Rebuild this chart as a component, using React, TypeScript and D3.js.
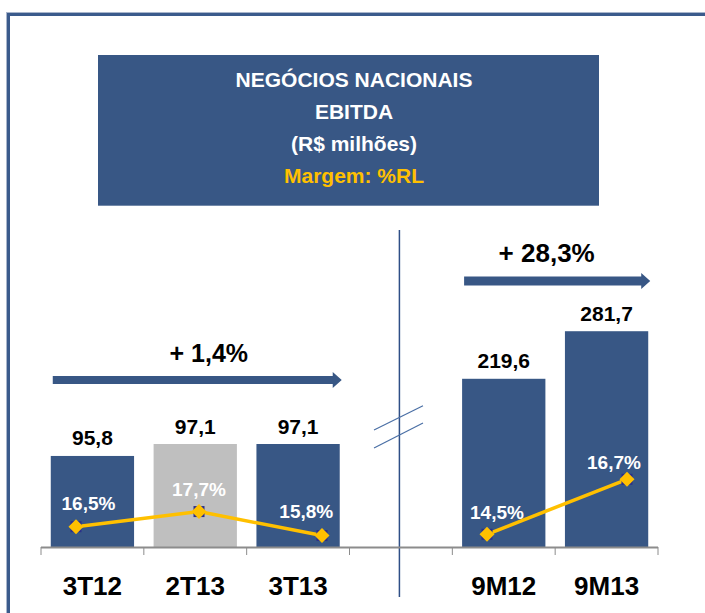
import * as d3 from 'd3';

// EBITDA (R$ milhões) and margin (%RL)
const quarterCats = ["3T12", "2T13", "3T13"];
const ytdCats = ["9M12", "9M13"];
const quarterEbitda = [95.8, 97.1, 97.1];
const ytdEbitda = [219.6, 281.7];
const quarterMargin = [16.5, 17.7, 15.8];
const ytdMargin = [14.5, 16.7];
const growthLabels = ["+ 1,4%", "+ 28,3%"];
const titleLines = ["NEGÓCIOS NACIONAIS", "EBITDA", "(R$ milhões)"];
const subtitle = "Margem: %RL";

const BLUE = "#385785";
const GRAY = "#bfbfbf";
const GOLD = "#FFC000";
const FONT = "'Liberation Sans', Arial, Helvetica, sans-serif";

const fmt = (v: number) => v.toFixed(1).replace(".", ",");

export default function App() {
  const width = 705;
  const height = 613;
  const baseline = 547;

  const x = d3.scaleBand<string>()
    .domain([...quarterCats, "", ...ytdCats])
    .range([41, 658])
    .paddingInner(0.19)
    .paddingOuter(0.095);

  // the original chart uses a broken axis: each group has its own scale
  const yQ = d3.scaleLinear().domain([85.9, 97.1]).range([baseline, 444]);
  const yY = d3.scaleLinear().domain([0, 300]).range([baseline, 317.2]);

  // margin line sits on its own overlay scales
  const mQx = d3.scalePoint<string>().domain(quarterCats).range([76, 322]);
  const mYx = d3.scalePoint<string>().domain(ytdCats).range([487, 627]);
  const mQy = d3.scaleLinear().domain([15, 18]).range([545.6, 507.8]);
  const mYy = d3.scaleLinear().domain([14, 17]).range([546.8, 471.8]);

  const groups = [
    {
      cats: quarterCats, values: quarterEbitda, margins: quarterMargin,
      y: yQ, mx: mQx, my: mQy, growth: growthLabels[0],
      arrowY: 380, growthY: 361.7, growthDx: 11.5, growthSize: 25,
      nudge: [[12.5, -16.7], [0, -15.7], [-15.7, -18]],
    },
    {
      cats: ytdCats, values: ytdEbitda, margins: ytdMargin,
      y: yY, mx: mYx, my: mYy, growth: growthLabels[1],
      arrowY: 281, growthY: 261.7, growthDx: -10.5, growthSize: 26,
      nudge: [[10, -15], [-13, -10]],
    },
  ];

  const step = x.step();
  const ticks = d3.range(x.domain().length + 1).map(i => x.range()[0] + i * step);
  const divX = x("")! + x.bandwidth() / 2 - 1.5;

  const arrowPath = (x0: number, x1: number, y: number, t: number) => {
    const hl = 9, hh = 8;
    return `M${x0},${y - t} L${x1 - hl},${y - t} L${x1 - hl},${y - hh} L${x1},${y} ` +
      `L${x1 - hl},${y + hh} L${x1 - hl},${y + t} L${x0},${y + t} Z`;
  };

  const line = d3.line<[number, number]>().x(d => d[0]).y(d => d[1]);

  return (
    <svg width={width} height={height} style={{ position: 'absolute', left: 0, top: 0, background: '#fff' }}
      fontFamily={FONT} fontWeight="bold">
      {/* frame */}
      <line x1={6} y1={12.5} x2={width} y2={12.5} stroke="#a9b6cc" strokeWidth={1} />
      <line x1={6.5} y1={12} x2={6.5} y2={height} stroke="#a9b6cc" strokeWidth={1} />
      <line x1={7} y1={14.5} x2={width} y2={14.5} stroke="#3b5b8c" strokeWidth={3} />
      <line x1={8.5} y1={13} x2={8.5} y2={height} stroke="#3b5b8c" strokeWidth={3} />

      {/* title box */}
      <rect x={98} y={55} width={501} height={150.7} fill={BLUE} />
      {titleLines.map((t, i) => (
        <text key={t} x={354} y={86.7 + i * 32} textAnchor="middle" fill="#fff" fontSize={21}>{t}</text>
      ))}
      <text x={354} y={183.3} textAnchor="middle" fill={GOLD} fontSize={21}>{subtitle}</text>

      {/* divider and break marks */}
      <line x1={divX} y1={230} x2={divX} y2={597} stroke="#2f4f86" strokeWidth={1.5} />
      <line x1={374} y1={430} x2={423} y2={405.7} stroke="#4a6fa5" strokeWidth={1.2} />
      <line x1={374} y1={448} x2={423} y2={423} stroke="#4a6fa5" strokeWidth={1.2} />

      {groups.map((g, gi) => {
        const first = x(g.cats[0])!;
        const last = x(g.cats[g.cats.length - 1])! + x.bandwidth();
        const pts: [number, number][] = g.cats.map((c, i) => [g.mx(c)!, g.my(g.margins[i])]);
        return (
          <g key={gi}>
            <path d={arrowPath(first + 2, last + 2, g.arrowY, gi === 0 ? 4 : 4.5)} fill={BLUE} />
            <text x={(first + last) / 2 + 2 + g.growthDx} y={g.growthY} textAnchor="middle"
              fontSize={g.growthSize} fill="#000">{g.growth}</text>
            {g.cats.map((c, i) => (
              <g key={c}>
                <rect x={x(c)} y={g.y(g.values[i])} width={x.bandwidth()}
                  height={baseline - g.y(g.values[i])} fill={c === "2T13" ? GRAY : BLUE} />
                <text x={x(c)! + x.bandwidth() / 2} y={g.y(g.values[i]) - 10.5} textAnchor="middle"
                  fontSize={21} fill="#000">{fmt(g.values[i])}</text>
              </g>
            ))}
            <path d={line(pts)!} fill="none" stroke={GOLD} strokeWidth={3.5} />
            {pts.map((p, i) => (
              <g key={i}>
                <rect x={p[0] - 5.5} y={p[1] - 5.5} width={11} height={11} fill="#2a2f8c" />
                <path d={`M${p[0]},${p[1] - 7.5} L${p[0] + 7.5},${p[1]} L${p[0]},${p[1] + 7.5} L${p[0] - 7.5},${p[1]} Z`}
                  fill={GOLD} />
                <text x={p[0] + g.nudge[i][0]} y={p[1] + g.nudge[i][1]} textAnchor="middle"
                  fontSize={19} fill="#fff">{fmt(g.margins[i])}%</text>
              </g>
            ))}
          </g>
        );
      })}

      {/* category axis */}
      <line x1={ticks[0]} y1={baseline + 0.5} x2={ticks[ticks.length - 1]} y2={baseline + 0.5}
        stroke="#8c8c8c" strokeWidth={2} />
      {ticks.map((t, i) => (
        <line key={i} x1={t} y1={baseline} x2={t} y2={baseline + 8} stroke="#8c8c8c" strokeWidth={1} />
      ))}
      {[...quarterCats, ...ytdCats].map(c => (
        <text key={c} x={x(c)! + x.bandwidth() / 2} y={595} textAnchor="middle" fontSize={26} fill="#000">{c}</text>
      ))}
    </svg>
  );
}
